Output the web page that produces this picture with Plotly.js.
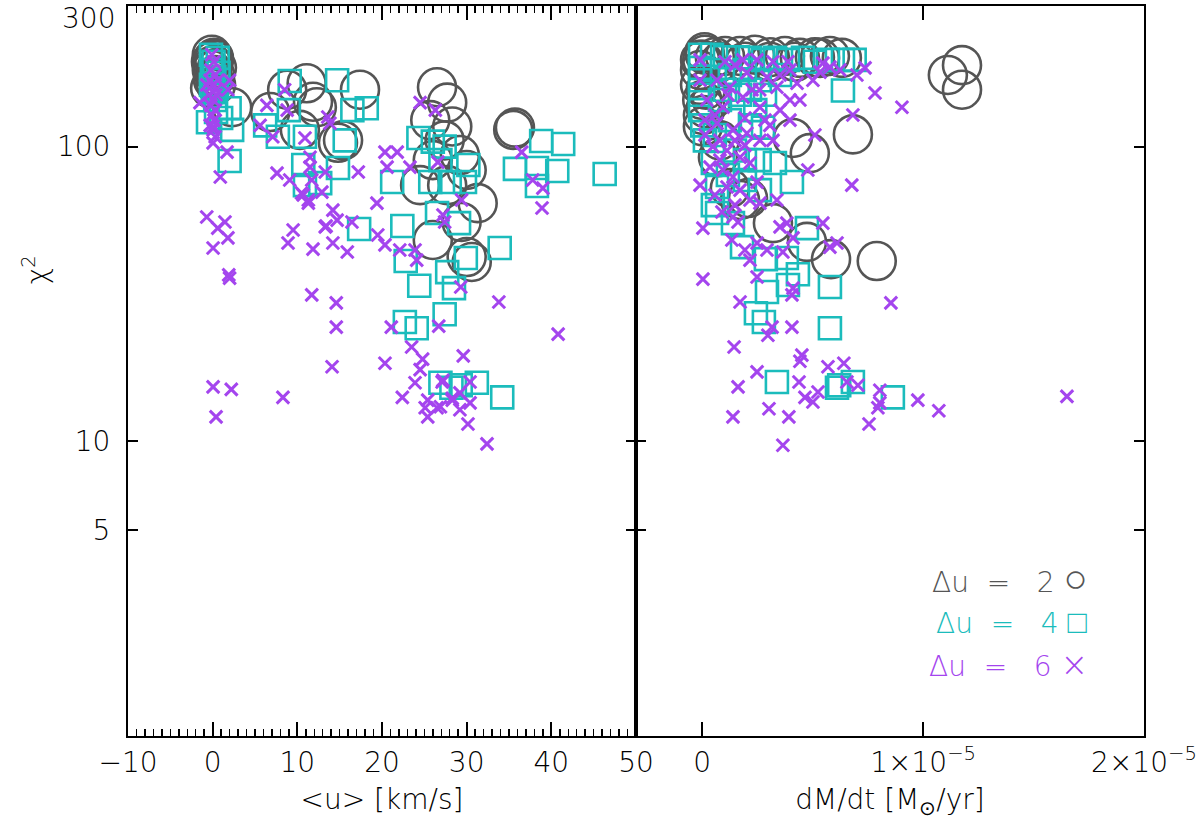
<!DOCTYPE html>
<html><head><meta charset="utf-8">
<script src="https://cdn.plot.ly/plotly-3.0.1.min.js"></script>
<style>html,body{margin:0;padding:0;background:#fff}#chart{width:1200px;height:835px}</style>
</head><body><div id="chart"></div>
<script>
// ---------- Left panel: <u> [km/s] vs chi^2 ----------
const leftCircU = [-0.1,0.15,0.05,-0.1,0.3,0.05,0.4,-0.2,0.15,0.05,-0.3,0.5,2.3,
  6.8,8.8,11.1,12.3,11.85,10.3,15.4,14.8,17.4,
  26.5,27.7,25.7,28.3,27.4,29.2,26.0,24.5,30.0,27.7,31.3,29.4,26.0,30.0,30.6,35.5,35.7];
const leftCircChi = [205,197,189,182,175,168,162,194,200,171,158,185,136,
  131,156,164,136,142,114,105,103,156,
  159,141,123,117,105,93.6,90,74,83.3,74,64.3,55.5,48.2,42.2,40.6,114,116];

const leftSqU = [-0.2,0.6,0.1,-0.1,0.7,0.2,-0.2,0.5,0.0,0.3,-0.55,0.4,
  2.0,2.3,2.0,1.0,
  9.1,14.7,6.2,7.7,9.0,10.9,15.6,16.5,18.2,10.7,10.9,12.7,14.8,21.2,
  17.3,22.4,26.5,29.1,22.8,24.4,27.7,28.5,29.9,33.9,27.4,22.7,24.1,26.9,28.2,29.3,31.2,34.2,
  24.3,26.0,27.4,25.7,28.0,30.2,29.8,35.7,38.3,40.7,38.3,38.8,41.4,46.3,26.9];
const leftSqChi = [205,200,194,182,178,172,162,158,153,144,121,131,
  135,114,89.4,125,
  167,168,118,108,133,108,105,133,135,86.6,74,75.2,84.6,75.8,
  52.5,53.8,59.5,55,40.9,33.7,37.5,33.1,41.9,45.3,27.0,25.4,24.2,15.8,15.2,15.5,15.8,14.1,
  107,104,100,75.8,75.8,86.6,75.8,84,84.6,82.6,73.5,104.5,102,80.7,90];

const leftXU = [-0.1,0.15,-0.2,0.3,-0.3,0.05,0.4,-0.45,0.05,-0.2,0.3,-0.1,0.15,-0.3,0.4,-0.7,0.6,0.05,
  -1.5,0.05,0.3,0.05,1.7,0.9,2.0,1.8,
  -0.7,1.45,0.6,1.8,0.05,2.0,1.9,0.05,2.2,0.4,8.3,
  6.4,5.6,7.1,8.5,8.8,7.6,9.1,10.5,11.3,12.9,10.9,11.5,11.5,11.7,13.3,13.85,13.6,14.2,14.7,13.3,
  14.2,15.9,17.2,19.4,19.5,20.35,20.35,21.8,20.6,23.3,9.5,8.9,11.85,11.3,13.4,16.45,22.1,23.9,
  24.1,27.2,27.4,24.5,26.3,26.6,29.4,29.3,33.8,11.7,14.6,14.6,14.1,21.1,26.7,23.5,20.35,24.8,
  24.5,29.6,23.9,27.1,22.4,29.2,30.4,30.4,25.4,25.1,26.5,28.3,29.2,25.4,30.15,32.4,27.2,26.9,
  28.3,10.7,36.5,37.8,39.0,38.9,40.8];
const leftXChi = [205,194,182,175,168,162,156,150,144,138,133,128,123,118,150,162,168,114,
  141,117,108,103,95.8,78.9,168,156,
  57.7,55.5,52.9,49,45.3,35.8,36.7,15.3,15.0,12.1,14.1,
  138,118,108,156,133,81.3,77,69.6,65.9,70.1,107,92,85.2,77,82,120,126,60.9,56.3,53.4,
  47.1,43.9,82,64.3,50.1,46.4,95.8,95.8,85.2,85.2,52.1,47.1,44.9,64.3,53.8,55.5,44.6,44.6,
  41.2,58.6,55.5,141,133,88.6,65.9,33.4,29.7,31.4,29.5,24.4,17.9,24.4,24.6,20.9,18.4,19.0,
  17.5,19.5,15.8,15.9,14.1,14.6,15.9,13.5,13.8,13.0,13.0,13.8,12.8,12.1,11.45,9.8,16.1,13.1,
  14.0,68.5,95.8,77,72.3,61.9,23.1];

// ---------- Right panel: dM/dt [in units of 1e-5 Msun/yr] vs chi^2 ----------
const rightCircM = [0.012,0.057,0.103,0.171,0.239,0.306,0.374,0.442,0.510,0.578,0.632,
  0.01,0.0,-0.01,-0.01,0.0,0.003,0.003,0.044,0.08,0.071,0.125,0.171,0.207,0.32,
  0.41,0.487,0.474,0.583,0.79,0.682,1.112,1.176,1.176,
  -0.01,0.08,0.193,0.306,0.42,0.533,0.016,0.016];
const rightCircChi = [205,201,203,203,205,201,203,200,201,203,200,
  209,197,182,162,144,128,117,144,105,92,72.3,65.9,66.9,55,
  107,95,47.5,41.5,40.9,110,175,189,156,
  197,194,194,194,194,200,156,135];

const rightSqM = [-0.01,0.044,0.103,0.162,0.216,0.275,0.329,0.388,0.456,0.637,0.69,0.637,
  -0.01,-0.01,-0.01,-0.01,0.0,0.012,0.057,0.125,0.193,0.26,0.17,0.08,0.24,0.275,0.216,0.148,
  0.26,0.329,0.048,0.067,0.193,0.406,0.048,
  0.067,0.139,0.18,0.288,0.383,0.433,0.293,0.388,0.474,0.578,0.243,0.279,0.578,0.338,0.61,0.62,0.682,0.863,
  0.103,0.216,0.284,0.125,0.057,0.193,0.116,0.261,0.352,0.51,0.569];
const rightSqChi = [205,205,201,201,200,197,200,197,200,197,197,155,
  185,168,150,133,118,105,182,175,182,168,150,144,133,116,118,97,
  90,88,88,72.9,77,75.8,63.3,
  59.5,55,45.6,41.5,41.9,36.9,32.1,33.9,52.9,33.4,27.2,25.4,24.2,15.9,15.2,15.5,15.9,14.1,
  156,156,150,123,109.5,90,80.1,71.2,175,194,197];

const rightXM = [0.103,0.184,0.248,0.32,0.388,0.546,0.578,0.737,0.70,0.782,0.904,0.682,0.51,0.32,0.478,0.677,
  -0.01,0.067,0.125,0.202,0.293,0.338,0.429,0.501,0.021,0.094,0.184,0.261,0.067,0.139,0.202,0.048,
  0.112,0.171,0.035,0.094,0.139,0.216,0.112,0.171,0.216,0.261,0.338,0.248,0.397,0.012,0.08,-0.01,
  0.148,0.26,0.397,
  0.003,0.089,0.139,0.162,0.134,0.193,0.216,0.248,0.293,0.352,0.383,0.411,0.365,0.546,0.578,0.61,
  0.248,0.003,0.171,0.411,0.406,0.316,0.297,0.406,0.854,0.144,0.451,0.442,0.569,0.641,0.248,0.438,
  0.162,0.655,0.705,0.465,0.501,0.524,0.804,0.804,0.795,0.976,1.071,0.302,0.392,0.139,0.755,0.365,1.651,
  0.057,0.116,0.225,0.284,0.352,0.012,0.193,0.148,0.261,0.08,-0.01,0.193,0.306,0.397,0.442,0.352,
  0.533,0.623,0.057,0.148];
const rightXChi = [194,197,197,194,194,192,186,185,175,152,136,128,109.5,105,83.3,74,
  168,168,159,178,172,159,164,168,144,136,147,136,120,114,111,100,
  97,92,85.2,83.3,78.9,88,72.9,71.2,65.9,64.3,65.9,75.8,182,123,105,197,
  189,156,144,
  52.9,60,57.7,55.5,48.2,44.6,41.2,47.1,44.6,53.4,55,49,43.9,55,45.6,47.1,
  36.1,35.5,29.7,33.1,31.4,24.4,22.9,24.4,29.5,20.9,19.6,18.7,17.9,18.4,17.2,15.9,
  15.3,15.9,15.5,14.1,13.6,14.7,14.9,13.5,13.0,13.8,12.7,12.9,12.1,12.1,11.45,9.7,14.2,
  128,150,156,123,133,109.5,125,105,105,90,74,101,118,123,144,175,
  179,182,68.5,63.3];

// ---------- Tick labels / text ----------
const leftTickVals = [-10,0,10,20,30,40,50];
const rightTickVals = [0,1,2];
const rightTickText = ['0','1×10<sup>−5</sup>','2×10<sup>−5</sup>'];
const yTickVals = [5,10,100];
const yTickText = ['5','10','100'];
const legendValues = ['2','4','6'];
const legendGlyphs = ['<span style="font-size:40px">○</span>',
                      '<span style="font-size:32px">□</span>',
                      '<span style="font-size:33px">×</span>'];

const GRAY = '#555555', CYAN = '#1bbcbc', PURPLE = '#a445ee';
const FAM = '"DejaVu Sans", "Noto Sans", sans-serif';
const FONT = {family: FAM, size: 28, color: '#000', weight: 300};
const NB = '\u00a0';

function circ(x, y, xa, ya) {
  return {type:'scatter', mode:'markers', x:x, y:y, xaxis:xa, yaxis:ya, showlegend:false, hoverinfo:'skip',
    marker:{symbol:'circle-open', size:38, color:GRAY, line:{color:GRAY, width:2.6}}};
}
function sq(x, y, xa, ya) {
  return {type:'scatter', mode:'markers', x:x, y:y, xaxis:xa, yaxis:ya, showlegend:false, hoverinfo:'skip',
    marker:{symbol:'square-open', size:22, color:CYAN, line:{color:CYAN, width:2.6}}};
}
function crs(x, y, xa, ya) {
  return {type:'scatter', mode:'markers', x:x, y:y, xaxis:xa, yaxis:ya, showlegend:false, hoverinfo:'skip',
    marker:{symbol:'x-thin-open', size:12.5, color:PURPLE, line:{color:PURPLE, width:3}}};
}

const data = [
  circ(leftCircU, leftCircChi, 'x', 'y'),
  circ(rightCircM, rightCircChi, 'x2', 'y2'),
  sq(leftSqU, leftSqChi, 'x', 'y'),
  sq(rightSqM, rightSqChi, 'x2', 'y2'),
  crs(leftXU, leftXChi, 'x', 'y'),
  crs(rightXM, rightXChi, 'x2', 'y2')
];

const axCommon = {showline:true, linecolor:'#000', linewidth:2, mirror:'ticks', ticks:'inside',
  tickcolor:'#000', tickwidth:2, showgrid:false, zeroline:false, tickfont:FONT};

const yRange = [0, Math.log10(300)];

const legendColors = [GRAY, CYAN, PURPLE];
const legendY = [0.2164, 0.1562, 0.0973];
const legendAnns = legendValues.map((v, i) => ({
  xref:'paper', yref:'paper', x:0.947, y:legendY[i], xanchor:'right', yanchor:'middle',
  text:'Δu' + NB + NB + '=' + NB + NB + NB + v + NB + legendGlyphs[i],
  showarrow:false, font:Object.assign({}, FONT, {color:legendColors[i]})
}));

const layout = {
  width:1200, height:835,
  margin:{l:128, r:56, t:6, b:99},
  paper_bgcolor:'#fff', plot_bgcolor:'rgba(0,0,0,0)',
  showlegend:false,
  xaxis: Object.assign({}, axCommon, {domain:[0,0.5], range:[-10,50], tickmode:'array', tickvals:leftTickVals,
    ticklen:14, anchor:'y',
    minor:{dtick:1, ticks:'inside', ticklen:7, tickwidth:1.5, tickcolor:'#000', showgrid:false},
    title:{text:'&lt;u&gt; [km/s]', font:FONT, standoff:12}}),
  xaxis2: Object.assign({}, axCommon, {domain:[0.5,1], range:[-0.3,2.0], tickmode:'array', tickvals:rightTickVals,
    ticktext:rightTickText, ticklen:14, anchor:'y2',
    title:{text:'dM/dt [M<sub>⊙</sub>/yr]', font:FONT, standoff:12}}),
  yaxis: Object.assign({}, axCommon, {type:'log', range:yRange, tickmode:'array', tickvals:yTickVals,
    ticktext:yTickText, ticklen:10, anchor:'x', ticklabelstandoff:10}),
  yaxis2: Object.assign({}, axCommon, {type:'log', range:yRange, tickmode:'array', tickvals:yTickVals,
    ticklen:10, anchor:'x2', showticklabels:false}),
  annotations: [
    {xref:'paper', yref:'paper', x:0, y:1, xanchor:'right', yanchor:'middle', xshift:-11, yshift:-12,
      text:'300', showarrow:false, font:FONT},
    {xref:'paper', yref:'paper', x:-0.0915, y:0.638, xanchor:'center', yanchor:'middle', textangle:-90,
      text:'χ<sup>2</sup>', showarrow:false, font:FONT}
  ].concat(legendAnns)
};

Plotly.newPlot('chart', data, layout, {staticPlot:true, displayModeBar:false});
</script>
</body></html>
